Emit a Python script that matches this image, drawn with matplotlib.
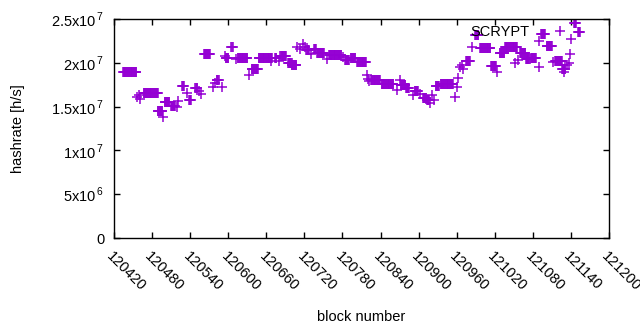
import numpy as np
import matplotlib
matplotlib.use("Agg")
import matplotlib.pyplot as plt
import matplotlib.transforms as mtransforms

plt.rcParams['font.family'] = ['Liberation Sans', 'DejaVu Sans']
plt.rcParams['mathtext.fontset'] = 'custom'
plt.rcParams['mathtext.rm'] = 'Liberation Sans'

# runs of blocks with the same hashrate (start block, end block, hashrate in 1e7 h/s)
run_start = [120434, 120456, 120461, 120459, 120467, 120489, 120497, 120500, 120510, 120519,
             120521, 120527, 120535, 120538, 120548, 120554, 120557, 120562, 120576, 120579,
             120582, 120590, 120595, 120596, 120605, 120613, 120615, 120633, 120637, 120648,
             120667, 120674, 120680, 120682, 120694, 120700, 120708, 120713, 120718, 120721,
             120723, 120730, 120735, 120740, 120756, 120759, 120781, 120784, 120793, 120803,
             120819, 120820, 120822, 120825, 120842, 120866, 120871, 120872, 120880, 120891,
             120894, 120902, 120907, 120913, 120918, 120921, 120924, 120927, 120935, 120957,
             120960, 120962, 120965, 120968, 120970, 120975, 120984, 120989, 120997, 121014,
             121024, 121028, 121036, 121052, 121057, 121060, 121069, 121077, 121090, 121090,
             121093, 121102, 121112, 121115, 121126, 121129, 121134, 121137, 121139, 121140,
             121145, 121151]
run_end = [120455, 120456, 120461, 120459, 120489, 120496, 120497, 120507, 120516, 120519,
           120521, 120530, 120535, 120541, 120551, 120554, 120557, 120571, 120576, 120579,
           120585, 120590, 120595, 120600, 120607, 120613, 120630, 120633, 120647, 120669,
           120667, 120676, 120680, 120691, 120700, 120707, 120708, 120713, 120718, 120721,
           120727, 120730, 120738, 120751, 120756, 120778, 120781, 120790, 120800, 120817,
           120819, 120820, 120822, 120839, 120860, 120866, 120871, 120879, 120885, 120891,
           120899, 120902, 120912, 120916, 120918, 120921, 120924, 120932, 120954, 120957,
           120960, 120962, 120965, 120968, 120970, 120981, 120984, 120994, 121013, 121022,
           121024, 121035, 121055, 121052, 121057, 121068, 121075, 121085, 121090, 121090,
           121099, 121110, 121112, 121126, 121131, 121129, 121134, 121137, 121139, 121140,
           121148, 121154]
run_value = [1.89, 1.61, 1.59, 1.63, 1.65, 1.45, 1.38, 1.55, 1.51, 1.50,
             1.56, 1.74, 1.65, 1.58, 1.71, 1.68, 1.64, 2.10, 1.72, 1.77,
             1.80, 1.72, 2.08, 2.05, 2.18, 2.04, 2.06, 1.86, 1.93, 2.05,
             2.02, 2.06, 2.02, 2.08, 2.00, 1.97, 2.18, 2.16, 2.21, 2.18,
             2.15, 2.10, 2.16, 2.11, 2.04, 2.09, 2.07, 2.03, 2.05, 2.01,
             1.86, 1.82, 1.79, 1.80, 1.76, 1.69, 1.80, 1.75, 1.71, 1.63,
             1.68, 1.64, 1.60, 1.58, 1.54, 1.63, 1.58, 1.74, 1.76, 1.61,
             1.72, 1.83, 1.95, 1.98, 1.93, 2.02, 2.18, 2.32, 2.17, 1.96,
             1.90, 2.11, 2.18, 2.00, 2.03, 2.11, 2.04, 2.06, 1.95, 2.25,
             2.33, 2.19, 2.01, 2.02, 1.93, 1.90, 1.98, 2.00, 2.10, 2.27,
             2.45, 2.35]

ytick_vals = [0, 0.5e7, 1e7, 1.5e7, 2e7, 2.5e7]
ytick_labels = ['0', r'5x10$^{\,6}$', r'1x10$^{\,7}$', r'1.5x10$^{\,7}$', r'2x10$^{\,7}$', r'2.5x10$^{\,7}$']
xtick_vals = list(range(120420, 121201, 60))

blocks = np.concatenate([np.arange(s, e + 1) for s, e in zip(run_start, run_end)])
rates = np.concatenate([np.full(e - s + 1, v * 1e7) for s, e, v in zip(run_start, run_end, run_value)])

fig = plt.figure(figsize=(6.4, 3.3), dpi=100)
ax = fig.add_axes([114 / 640, 1 - 238 / 330, 495 / 640, 219 / 330])

ax.plot(blocks, rates, linestyle='none', marker='+', markersize=6.5,
        markeredgewidth=1.1, color='#9400d3', label='SCRYPT')

ax.set_xlim(120420, 121200)
ax.set_ylim(0, 2.5e7)
ax.set_xticks(xtick_vals)
ax.set_xticklabels([str(v) for v in xtick_vals], rotation=-45, ha='left', va='top',
                   rotation_mode='anchor', fontsize=10.5)
# nudge rotated labels a bit to the right, like gnuplot does
shift = mtransforms.ScaledTranslation(5 / 72, 0, fig.dpi_scale_trans)
for lbl in ax.get_xticklabels():
    lbl.set_transform(lbl.get_transform() + shift)
ax.set_yticks(ytick_vals)
ax.set_yticklabels(ytick_labels, fontsize=10.5)
ax.tick_params(direction='in', length=4, width=1, top=True, right=True, pad=7)
ax.tick_params(axis='x', pad=8)
for sp in ax.spines.values():
    sp.set_linewidth(1)

ax.set_xlabel('block number', fontsize=10.5, labelpad=12)
ax.set_ylabel('hashrate [h/s]', fontsize=10.5, labelpad=19)

ax.legend(loc='center right', bbox_to_anchor=(0.96, 0.94), frameon=False, markerfirst=False,
          handlelength=3, handletextpad=0.6, borderpad=0, fontsize=10.5)

fig.savefig('out.png', dpi=100)
